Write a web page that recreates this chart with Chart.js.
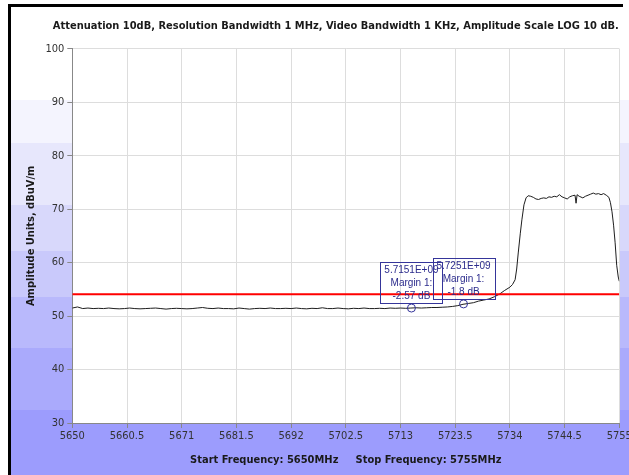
<!DOCTYPE html>
<html>
<head>
<meta charset="utf-8">
<script src="https://cdn.jsdelivr.net/npm/chart.js@4.4.0/dist/chart.umd.min.js"></script>
<style>
html, body { margin: 0; padding: 0; background: #fff; overflow: hidden; }
</style>
</head>
<body>
<canvas id="spectrumChart" width="629" height="475"></canvas>
<script>
const chartTitle = "Attenuation 10dB, Resolution Bandwidth 1 MHz, Video Bandwidth 1 KHz, Amplitude Scale LOG 10 dB.";
const xTitle = "Start Frequency: 5650MHz     Stop Frequency: 5755MHz";
const yTitle = "Amplitude Units, dBuV/m";

const xTicks = [5650, 5660.5, 5671, 5681.5, 5692, 5702.5, 5713, 5723.5, 5734, 5744.5, 5755];
const yTicks = [30, 40, 50, 60, 70, 80, 90, 100];

// trace (MHz / dBuV/m)
const freqMHz = [
    5650, 5651, 5652, 5653, 5654, 5655, 5656, 5657, 5658, 5659,
    5660, 5661, 5662, 5663, 5664, 5665, 5666, 5667, 5668, 5669,
    5670, 5671, 5672, 5673, 5674, 5675, 5676, 5677, 5678, 5679,
    5680, 5681, 5682, 5683, 5684, 5685, 5686, 5687, 5688, 5689,
    5690, 5691, 5692, 5693, 5694, 5695, 5696, 5697, 5698, 5699,
    5700, 5701, 5702, 5703, 5704, 5705, 5706, 5707, 5708, 5709,
    5710, 5711, 5712, 5713, 5714, 5715, 5716, 5717, 5718, 5719,
    5720, 5721, 5722, 5723, 5724, 5725, 5726, 5727, 5728, 5729,
    5730, 5731, 5732, 5733, 5734, 5734.5, 5735, 5735.3, 5735.6, 5736,
    5736.3, 5736.7, 5737.1, 5737.5, 5738, 5738.5, 5739, 5739.5, 5740, 5740.5,
    5741, 5741.5, 5742, 5742.5, 5743, 5743.5, 5744, 5744.5, 5745, 5745.5,
    5746, 5746.5, 5746.7, 5746.9, 5747.3, 5748, 5748.5, 5749, 5749.5, 5750,
    5750.5, 5751, 5751.5, 5752, 5752.5, 5753, 5753.3, 5753.6, 5753.9, 5754.2,
    5754.5, 5754.8, 5755
];
const levelDb = [
    51.5, 51.7, 51.4, 51.5, 51.4, 51.45, 51.4, 51.5, 51.4, 51.35,
    51.4, 51.5, 51.4, 51.35, 51.4, 51.45, 51.5, 51.4, 51.3, 51.4,
    51.45, 51.4, 51.35, 51.4, 51.5, 51.6, 51.45, 51.4, 51.5, 51.4,
    51.4, 51.35, 51.5, 51.4, 51.3, 51.4, 51.45, 51.4, 51.5, 51.4,
    51.4, 51.45, 51.4, 51.5, 51.4, 51.35, 51.45, 51.4, 51.55, 51.4,
    51.4, 51.5, 51.4, 51.35, 51.45, 51.4, 51.5, 51.4, 51.4, 51.45,
    51.4, 51.5, 51.45, 51.5, 51.45, 51.5, 51.55, 51.5, 51.55, 51.6,
    51.6, 51.65, 51.7, 51.8, 51.95, 52.2, 52.35, 52.5, 52.8, 53.0,
    53.2, 53.6, 54.1, 54.8, 55.4, 55.9, 56.8, 58.8, 61.8, 65.5,
    68.0, 70.8, 72.1, 72.5, 72.4, 72.2, 71.9, 71.8, 72.0, 72.1,
    72.0, 72.3, 72.2, 72.4, 72.3, 72.7, 72.3, 72.1, 71.9, 72.3,
    72.5, 72.6, 71.1, 72.7, 72.4, 72.1, 72.4, 72.6, 72.8, 73.0,
    72.8, 72.9, 72.7, 72.9, 72.6, 72.2, 71.2, 69.5, 67.0, 63.7,
    59.5, 57.3, 56.5
];

const limitFreq = [5650, 5755];
const limitLevel = [54.07, 54.07];

const markerFreq = [5715.1, 5725.1];
const markerLevel = [51.5, 52.27];
const markerText = [
    ["5.7151E+09", "Margin 1:", "-2.57 dB"],
    ["5.7251E+09", "Margin 1:", "-1.8 dB"]
];

const tickFont = { family: "'DejaVu Sans Condensed', 'DejaVu Sans', sans-serif", size: 11 };
const boldFont = { family: "'DejaVu Sans Condensed', 'DejaVu Sans', sans-serif", size: 11, weight: "bold" };

// gradient bands behind the plot, the frame and the top title
const panelBackground = {
    id: "panelBackground",
    beforeDraw(chart) {
        const { ctx, width, height, chartArea } = chart;
        const bands = [
            [7, 100, "#ffffff"],
            [100, 143, "#f4f4fe"],
            [143, 205, "#e7e7fc"],
            [205, 251, "#d8d8fb"],
            [251, 297, "#c9c9fb"],
            [297, 348, "#b9b9fc"],
            [348, 410, "#aaaafc"],
            [410, 475, "#9c9cfd"]
        ];
        ctx.save();
        ctx.fillStyle = "#ffffff";
        ctx.fillRect(0, 0, width, height);
        bands.forEach(([y0, y1, c]) => {
            ctx.fillStyle = c;
            ctx.fillRect(11, y0, width - 11, y1 - y0);
        });
        ctx.fillStyle = "#ffffff";
        ctx.fillRect(chartArea.left, chartArea.top, chartArea.right - chartArea.left, chartArea.bottom - chartArea.top);
        ctx.fillStyle = "#000000";
        ctx.fillRect(8, 4, 3, height - 4);
        ctx.fillRect(8, 4, 615, 3);

        ctx.font = "bold 11px 'DejaVu Sans Condensed', 'DejaVu Sans', sans-serif";
        ctx.fillStyle = "#1a1a1a";
        ctx.textAlign = "center";
        ctx.textBaseline = "middle";
        ctx.fillText(chartTitle, (chartArea.left + chartArea.right) / 2 - 10, 26);
        ctx.restore();
    }
};

// margin boxes above the two markers
const markerBoxes = {
    id: "markerBoxes",
    afterDatasetsDraw(chart) {
        const { ctx } = chart;
        const x = chart.scales.x, y = chart.scales.y;
        ctx.save();
        ctx.font = "10px 'Liberation Sans', Arial, sans-serif";
        ctx.textAlign = "center";
        ctx.textBaseline = "middle";
        markerFreq.forEach((f, i) => {
            const px = x.getPixelForValue(f);
            const py = y.getPixelForValue(markerLevel[i]);
            const lines = markerText[i];
            const w = Math.round(Math.max(...lines.map(t => ctx.measureText(t).width)) + 8);
            const h = 41;
            const top = Math.round(py - 5 - h);
            const left = Math.round(px - w / 2);
            ctx.strokeStyle = "#35359a";
            ctx.lineWidth = 1;
            ctx.strokeRect(left + 0.5, top + 0.5, w, h);
            ctx.fillStyle = "#2b2b8c";
            lines.forEach((t, j) => ctx.fillText(t, px, top + 8 + j * 13));
        });
        ctx.restore();
    }
};

const ctx = document.getElementById("spectrumChart");

new Chart(ctx, {
    type: "line",
    data: {
        datasets: [
            {
                label: "Markers",
                data: markerFreq.map((f, i) => ({ x: f, y: markerLevel[i] })),
                showLine: false,
                pointRadius: 4,
                pointStyle: "circle",
                pointBorderColor: "#35359a",
                pointBackgroundColor: "rgba(0,0,0,0)",
                pointBorderWidth: 1
            },
            {
                label: "Limit",
                data: limitFreq.map((f, i) => ({ x: f, y: limitLevel[i] })),
                borderColor: "#ff0000",
                borderWidth: 2,
                pointRadius: 0
            },
            {
                label: "Trace",
                data: freqMHz.map((f, i) => ({ x: f, y: levelDb[i] })),
                borderColor: "#1e1e1e",
                borderWidth: 1,
                pointRadius: 0,
                tension: 0
            }
        ]
    },
    options: {
        responsive: false,
        animation: false,
        layout: { padding: { left: 11, top: 48.7, right: 9.7, bottom: 0 } },
        plugins: {
            legend: { display: false },
            tooltip: { enabled: false }
        },
        scales: {
            x: {
                type: "linear",
                min: 5650,
                max: 5755,
                afterBuildTicks: s => { s.ticks = xTicks.map(v => ({ value: v })); },
                afterFit: s => { s.height = 52; s.paddingLeft = 0; s.paddingRight = 0; },
                ticks: {
                    autoSkip: false,
                    maxRotation: 0,
                    padding: 2,
                    color: "#333333",
                    font: tickFont,
                    callback: v => String(v)
                },
                grid: { color: "#dddddd", tickColor: "#888888", tickLength: 5 },
                border: { color: "#888888" },
                title: {
                    display: true,
                    text: xTitle,
                    color: "#1a1a1a",
                    font: boldFont,
                    padding: { top: 0, bottom: 8.4 }
                }
            },
            y: {
                min: 30,
                max: 100,
                afterBuildTicks: s => { s.ticks = yTicks.map(v => ({ value: v })); },
                afterFit: s => { s.width = 61.3; },
                ticks: {
                    padding: 3,
                    color: "#333333",
                    font: tickFont,
                    callback: v => String(v)
                },
                grid: { color: "#dddddd", tickColor: "#888888", tickLength: 5 },
                border: { color: "#888888" },
                title: {
                    display: true,
                    text: yTitle,
                    color: "#1a1a1a",
                    font: boldFont,
                    padding: { top: 13.4, bottom: 0 }
                }
            }
        }
    },
    plugins: [panelBackground, markerBoxes]
});
</script>
</body>
</html>
